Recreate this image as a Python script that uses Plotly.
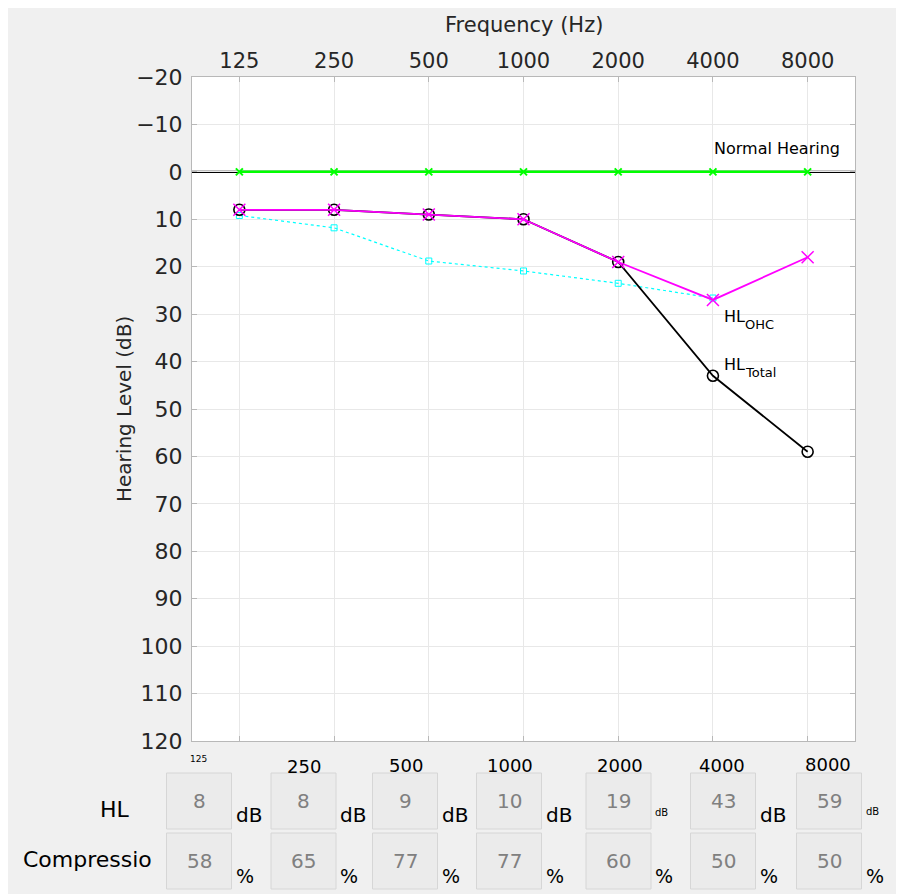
import math
import plotly.graph_objects as go

# ---------------- data ----------------
freqs = [125, 250, 500, 1000, 2000, 4000, 8000]
freq_labels = ["125", "250", "500", "1000", "2000", "4000", "8000"]
normal_hearing = [0, 0, 0, 0, 0, 0, 0]
hl_total = [8, 8, 9, 10, 19, 43, 59]
hl_ohc = [8, 8, 9, 10, 19, 27, 18]
hl_cyan = [9.2, 11.8, 18.8, 20.9, 23.5, 26.6, None]
y_ticks = [-20, -10, 0, 10, 20, 30, 40, 50, 60, 70, 80, 90, 100, 110, 120]
reference_level = 0

table_hl = [8, 8, 9, 10, 19, 43, 59]
table_compression = [58, 65, 77, 77, 60, 50, 50]
hl_unit = "dB"
comp_unit = "%"
row_labels = ["HL", "Compressio"]

# ---------------- layout helpers (screen pixel geometry) ----------------
SW, SH = 904, 894      # window
OFF = 8                # page body margin
W, H = SW - OFF, SH - OFF
L, R, T, B = 192, 855, 77, 741   # plot area in screen pixels
PW, PH = R - L, B - T


def px(x):
    return (x - L) / PW


def py(y):
    return (B - y) / PH


FONT = "DejaVu Sans"
TXT = "#262626"

fig = go.Figure()

fig.add_trace(go.Scatter(
    x=freqs, y=hl_cyan, mode="lines+markers",
    line=dict(color="#00ffff", width=1.2, dash="dot"),
    marker=dict(symbol="square-open", size=6, color="#00ffff", line=dict(width=1)),
    showlegend=False))
fig.add_trace(go.Scatter(
    x=freqs, y=normal_hearing, mode="lines+markers",
    line=dict(color="#00ff00", width=2.5),
    marker=dict(symbol="x-thin", size=7, color="#00ff00", line=dict(width=2, color="#00ff00")),
    showlegend=False))
fig.add_trace(go.Scatter(
    x=freqs, y=hl_total, mode="lines+markers",
    line=dict(color="black", width=1.8),
    marker=dict(symbol="circle-open", size=11, color="black", line=dict(width=1.6)),
    showlegend=False))
fig.add_trace(go.Scatter(
    x=freqs, y=hl_ohc, mode="lines+markers",
    line=dict(color="#ff00ff", width=1.8),
    marker=dict(symbol="x-thin", size=12, color="#ff00ff", line=dict(width=1.5, color="#ff00ff")),
    showlegend=False))

lo = math.log10(freqs[0]) - math.log10(2) / 2
hi = math.log10(freqs[-1]) + math.log10(2) / 2

fig.update_xaxes(
    type="log", range=[lo, hi], side="top",
    tickvals=freqs, ticktext=freq_labels,
    showgrid=True, gridcolor="#e8e8e8", gridwidth=1,
    showline=True, linecolor="#b8b8b8", linewidth=1, mirror="ticks",
    ticks="inside", ticklen=5, tickcolor="#b8b8b8",
    tickfont=dict(family=FONT, size=21, color=TXT),
    zeroline=False,
)
fig.update_yaxes(
    range=[120, -20], tickvals=y_ticks,
    showgrid=True, gridcolor="#e8e8e8", gridwidth=1,
    showline=True, linecolor="#b8b8b8", linewidth=1, mirror="ticks",
    ticks="inside", ticklen=5, tickcolor="#b8b8b8",
    tickfont=dict(family=FONT, size=22, color=TXT),
    ticklabelstandoff=4,
    zeroline=False,
)

shapes = []
annotations = []

# black reference line at 0 dB across the full width
shapes.append(dict(type="line", xref="paper", yref="y", x0=0, x1=1,
                   y0=reference_level, y1=reference_level,
                   line=dict(color="black", width=2.2), layer="between"))


def label(text, x, y, size, color="black", xanchor="left", angle=0, family=FONT):
    annotations.append(dict(text=text, xref="paper", yref="paper",
                            x=px(x), y=py(y), xanchor=xanchor, yanchor="middle",
                            textangle=angle, showarrow=False,
                            font=dict(family=family, size=size, color=color)))


# axis titles
label("Frequency (Hz)", 523.5, 25, 21, TXT, "center")
label("Hearing Level (dB)", 124, 409, 20, TXT, "center", angle=-90)

# in-plot labels
label("Normal Hearing", 712, 148, 16)
label("HL", 722, 316, 16)
label("OHC", 743, 324, 13)
label("HL", 722, 364, 16)
label("Total", 743, 372, 13)

# ---------------- bottom table ----------------
box_left = [166.5, 271, 372.5, 476.5, 586, 690.5, 796.5]
box_w = 65
hl_top, hl_bot = 773, 829
cp_top, cp_bot = 833, 889
label_x = [198, 304, 405.5, 510, 620, 721.5, 828]
label_y = [759, 766, 765, 765, 765, 765, 764]
label_size = [9, 18, 18, 18, 18, 18, 18]
db_size = [20, 20, 20, 20, 10, 20, 10]
db_y = [815, 815, 815, 815, 812, 815, 811]

for i in range(len(freq_labels)):
    x0 = box_left[i]
    x1 = x0 + box_w
    for (t0, t1) in [(hl_top, hl_bot), (cp_top, cp_bot)]:
        shapes.append(dict(type="rect", xref="paper", yref="paper",
                           x0=px(x0), x1=px(x1), y0=py(t1), y1=py(t0),
                           fillcolor="#ebebeb", line=dict(color="#d6d6d6", width=1),
                           layer="above"))
    label(freq_labels[i], label_x[i], label_y[i], label_size[i], "black", "center")
    label(str(table_hl[i]), x0 + box_w / 2, 801, 20, "#808080", "center")
    label(str(table_compression[i]), x0 + box_w / 2, 861, 20, "#808080", "center")
    label(hl_unit, x1 + 2, db_y[i], db_size[i])
    label(comp_unit, x1 + 2, 876, 19)

label(row_labels[0], 115, 809, 22, "black", "center")
label(row_labels[1], 154, 859, 22, "black", "right")

fig.update_layout(
    width=W, height=H, autosize=False,
    margin=dict(l=L - OFF, r=SW - R, t=T - OFF, b=SH - B, pad=0),
    paper_bgcolor="#f0f0f0", plot_bgcolor="white",
    shapes=shapes, annotations=annotations,
    showlegend=False,
)

fig.write_html("out.html")
